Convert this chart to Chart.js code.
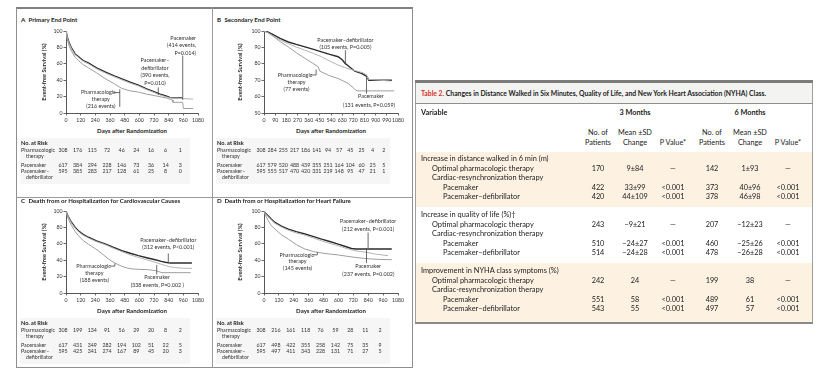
<!DOCTYPE html>
<html><head><meta charset="utf-8">
<script src="https://cdn.jsdelivr.net/npm/chart.js@4"></script>
<style>
html,body{margin:0;padding:0;background:#fff;}
#root{position:relative;width:828px;height:381px;overflow:hidden;background:#fff;font-family:Lato,'Open Sans',sans-serif;color:#222;}
.abs{position:absolute;white-space:nowrap;line-height:1;}
canvas{position:absolute;}
</style></head><body><div id="root"></div>
<script>
// ---------------- DATA ----------------
const xTicks120 = [0,120,240,360,480,600,720,840,960,1080];
const xTicks90 = [0,90,180,270,360,450,540,630,720,810,900,990,1080];
const yTicks0 = [0,20,40,60,80,100];
const yTicks50 = [50,60,70,80,90,100];
const riskDays120 = [0,120,240,360,480,600,720,840,960];
const riskDays90 = [0,90,180,270,360,450,540,630,720,810,900,990];

// Panel A: Primary end point  [day, % event-free]
const A_pharm = [[0,100],[10,90],[25,82],[46,75],[75,68],[101,64],[140,59],[183,55],[250,49],[320,42],[390,36],[457,30],[525,27],[593,25.5],[660,23],[730,21],[780,19.5],[830,18],[870,16],[875,13],[955,13],[960,5.5],[1040,5.5]];
const A_pace = [[0,100],[10,92],[25,85],[46,78],[75,71],[101,68],[140,63],[183,60],[250,54],[320,49],[390,44.5],[457,40.5],[525,36.5],[593,33],[660,28.5],[730,24.5],[770,22],[812,20],[850,18.5],[894,18],[960,17.5],[1040,17]];
const A_pd = [[0,100],[10,93],[25,86],[46,79],[75,72],[101,69],[140,64],[183,61],[250,55],[320,50],[390,45.5],[457,41.5],[525,37.5],[593,34],[660,29.5],[730,25.5],[770,23],[812,21],[850,19],[894,18.5],[955,18.5]];
// Panel B: Secondary end point
const B_pharm = [[0,100],[30,99],[62,97.5],[130,93.5],[196,90.3],[260,86.8],[330,83.3],[390,80.5],[437,78.2],[450,75.5],[520,73],[598,71],[640,69.5],[678,68],[710,66],[732,64.5],[750,63.5],[1050,63.5]];
const B_pace = [[0,100],[30,99],[62,97.5],[130,94.5],[196,92.3],[260,90.2],[330,88.3],[400,86.3],[464,84.3],[530,81.7],[598,79.2],[650,77.8],[700,76.5],[750,75.5],[800,74.5],[830,73],[840,70.5],[1020,69.5]];
const B_pd = [[0,100],[30,99.5],[62,98.3],[130,95.5],[196,93.3],[260,91.8],[330,90.3],[400,88.8],[464,87.3],[530,85.7],[598,84.3],[630,82.5],[651,80.5],[690,78],[732,75.5],[785,74.2],[825,72.5],[845,70],[1030,70]];
// Panel C: Death or hospitalization for cardiovascular causes
const C_pharm = [[0,100],[10,94],[20,90],[46,82],[75,75],[101,70],[140,64],[183,59.5],[230,55],[265,51.5],[310,46],[347,41.5],[400,36.5],[457,32.5],[500,30.5],[539,29.4],[600,28.8],[675,28.4],[730,27.4],[760,26],[785,24.8],[1020,24.8]];
const C_pace = [[0,100],[10,95.5],[20,92.5],[46,85],[75,79],[101,75],[140,70.5],[183,67],[250,62.5],[320,59],[390,54.5],[457,50.5],[525,46.5],[593,43.5],[660,40.5],[730,37.5],[780,35],[812,33.5],[850,32],[894,31],[960,30.2],[1030,30]];
const C_pd = [[0,100],[10,96],[20,93],[46,86],[75,80],[101,76],[140,71.5],[183,68],[250,63.5],[320,60],[390,55.5],[457,51.5],[525,48.5],[593,45.5],[660,43],[730,40.5],[780,38.5],[812,37.5],[853,36.5],[1030,36.5]];
// Panel D: Death or hospitalization for heart failure
const D_pharm = [[0,100],[10,95],[35,88],[60,82],[88,78],[140,71],[196,65.7],[260,59],[330,53.6],[400,50.5],[464,48.8],[530,47.5],[598,46.4],[660,45],[732,43.5],[800,42.3],[866,41.5],[950,40.8],[1030,40.7]];
const D_pace = [[0,100],[10,97],[35,93],[60,89],[88,85],[140,80.5],[196,76.5],[260,73.3],[330,70.6],[400,67],[464,63.7],[530,60.5],[598,57.7],[660,54.5],[732,51.6],[780,50.5],[825,49.6],[892,47.6],[1000,45.5]];
const D_pd = [[0,100],[10,97.5],[35,94],[60,90],[88,86],[140,81.5],[196,78],[260,74.8],[330,72],[400,68.8],[464,65.7],[530,62.8],[598,59.7],[650,57],[705,54.3],[740,53.7],[1030,53.7]];

// Numbers at risk
const riskA_pharm = [308,176,115,72,46,24,16,6,1];
const riskA_pace = [617,384,294,228,146,73,36,14,3];
const riskA_pd = [595,385,283,217,128,61,25,8,0];
const riskB_pharm = [308,284,255,217,186,141,94,57,45,25,4,2];
const riskB_pace = [617,579,520,488,439,355,251,164,104,60,25,5];
const riskB_pd = [595,555,517,470,420,331,219,148,95,47,21,1];
const riskC_pharm = [308,199,134,91,56,29,20,8,2];
const riskC_pace = [617,431,349,282,194,102,51,22,5];
const riskC_pd = [595,425,341,274,167,89,45,20,3];
const riskD_pharm = [308,216,161,118,76,59,28,11,2];
const riskD_pace = [617,498,422,355,258,142,75,35,9];
const riskD_pd = [595,497,411,343,228,131,71,27,5];

// Table 2
const groupTitles = ['Increase in distance walked in 6 min (m)','Increase in quality of life (%)\u2020','Improvement in NYHA class symptoms (%)'];
const optN3 = [170,243,242], optChg3 = ['9\u00b184','\u22129\u00b121','24'], optP3 = ['\u2014','\u2014','\u2014'];
const optN6 = [142,207,199], optChg6 = ['1\u00b193','\u221212\u00b123','38'], optP6 = ['\u2014','\u2014','\u2014'];
const paceN3 = [422,510,551], paceChg3 = ['33\u00b199','\u221224\u00b127','58'], paceP3 = ['<0.001','<0.001','<0.001'];
const paceN6 = [373,460,489], paceChg6 = ['40\u00b196','\u221225\u00b126','61'], paceP6 = ['<0.001','<0.001','<0.001'];
const pdN3 = [420,514,543], pdChg3 = ['44\u00b1109','\u221224\u00b128','55'], pdP3 = ['<0.001','<0.001','<0.001'];
const pdN6 = [378,478,497], pdChg6 = ['46\u00b198','\u221226\u00b128','57'], pdP6 = ['<0.001','<0.001','<0.001'];

// ---------------- HELPERS ----------------
const root = document.getElementById('root');
const FONT = 'Lato';
function box(x,y,w,h,style){const d=document.createElement('div');d.style.cssText=`position:absolute;left:${x}px;top:${y}px;width:${w}px;height:${h}px;`+(style||'');root.appendChild(d);return d;}
function T(x,y,s,o){o=o||{};const d=document.createElement('div');d.className='abs';
  if(o.html)d.innerHTML=s;else d.textContent=s;
  d.style.left=x+'px';d.style.top=y+'px';d.style.fontSize=(o.size||7)+'px';
  if(o.bold)d.style.fontWeight='700';d.style.color=o.color||'#222';
  const tx=o.align==='center'?'-50%':(o.align==='right'?'-100%':'0');
  d.style.transform=`translate(${tx},-50%)`;
  if(o.rot){d.style.transformOrigin='0 0';d.style.transform=`rotate(-90deg) translate(-50%,-50%)`;}
  root.appendChild(d);return d;}

// ---------------- FRAME ----------------
box(16,7,397,361,'border:1px solid #8f8f8f;border-top:2px solid #808080;box-sizing:border-box;');
box(211.5,7,1.5,361,'background:#9a9a9a;');
box(16,196.5,397,1.3,'background:#9a9a9a;');

// ---------------- PANELS ----------------
const COLORS = ['#9e9e9e','#b4b4b4','#2c2c2c'];
const WIDTHS = [1.0,1.0,1.4];
const notesPlugin = {
  id:'notes',
  afterDatasetsDraw(chart,args,opts){
    const ctx=chart.ctx, xs=chart.scales.x, ys=chart.scales.y;
    ctx.save();
    ctx.fillStyle='#333';ctx.strokeStyle='#444';ctx.lineWidth=0.8;
    ctx.font=`5.4px ${FONT}`;ctx.textBaseline='middle';
    (opts.texts||[]).forEach(t=>{ctx.textAlign=t[3]||'center';ctx.fillText(t[0],xs.getPixelForValue(t[1]),ys.getPixelForValue(t[2]));});
    (opts.lines||[]).forEach(l=>{ctx.beginPath();l.forEach((p,i)=>{const px=xs.getPixelForValue(p[0]),py=ys.getPixelForValue(p[1]);if(i)ctx.lineTo(px,py);else ctx.moveTo(px,py);});ctx.stroke();});
    ctx.restore();
  }
};

const panels = [
 {letter:'A',title:'Primary End Point',px:16,cl:36,ct:23,cw:176,ch:102,ymin:0,ymax:100,yt:yTicks0,xt:xTicks120,
  series:[A_pharm,A_pace,A_pd],risk:[riskA_pharm,riskA_pace,riskA_pd],rdays:riskDays120,titleY:20,
  notes:{texts:[['Pacemaker',1064,91.7,'right'],['(414 events,',1064,82.2,'right'],['P=0.014)',1064,72.9,'right'],
    ['Pacemaker\u2013',728,63.8],['defibrillator',728,54.7],['(390 events,',728,45.6],['P=0.010)',728,36.4],
    ['Pharmacologic',265,24.9],['therapy',285,16.4],['(216 events)',285,7.9]],
   lines:[[[955,70],[955,16]],[[755,31.2],[755,21.9]],[[392,24.9],[440,24.9]],[[440,29],[440,7.5]]]}},
 {letter:'B',title:'Secondary End Point',px:212,cl:234,ct:23,cw:178,ch:102,ymin:50,ymax:100,yt:yTicks50,xt:xTicks90,
  series:[B_pharm,B_pace,B_pd],risk:[riskB_pharm,riskB_pace,riskB_pd],rdays:riskDays90,titleY:20,
  notes:{texts:[['Pacemaker\u2013defibrillator',656,94.5],['(105 events, P=0.005)',656,89.8],
    ['Pharmacologic',250,73.2],['therapy',262,68.9],['(77 events)',262,64.5],
    ['Pacemaker',862,60],['(131 events, P=0.059)',846,55]],
   lines:[[[656,88.3],[656,79.5]],[[378,73.2],[420,73.2],[420,76.5]],[[826,71.5],[826,61.8]]]}},
 {letter:'C',title:'Death from or Hospitalization for Cardiovascular Causes',px:16,cl:36,ct:203,cw:176,ch:102,ymin:0,ymax:100,yt:yTicks0,xt:xTicks120,
  series:[C_pharm,C_pace,C_pd],risk:[riskC_pharm,riskC_pace,riskC_pd],rdays:riskDays120,titleY:201,
  notes:{texts:[['Pacemaker\u2013defibrillator',837,64],['(312 events, P<0.001)',837,55.3],
    ['Pharmacologic',226,32.8],['therapy',232,23.9],['(188 events)',232,15.4],
    ['Pacemaker',745,18.6],['(338 events, P=0.002 )',747,9.7]],
   lines:[[[837,48.2],[837,37.3]],[[358,32.8],[400,32.8],[400,36]],[[742,34],[742,22.7]]]}},
 {letter:'D',title:'Death from or Hospitalization for Heart Failure',px:212,cl:234,ct:203,cw:178,ch:102,ymin:0,ymax:100,yt:yTicks0,xt:xTicks120,
  series:[D_pharm,D_pace,D_pd],risk:[riskD_pharm,riskD_pace,riskD_pd],rdays:riskDays120,titleY:201,
  notes:{texts:[['Pacemaker\u2013defibrillator',839,87.2],['(212 events, P<0.001)',839,78.2],
    ['Pharmacologic',265,46.5],['therapy',270,38.3],['(145 events)',270,30],
    ['Pacemaker',839,32],['(237 events, P=0.002)',841,23.3]],
   lines:[[[839,73.7],[839,55]],[[395,46.5],[430,46.5],[430,49.7]],[[826,54],[826,36.5]]]}}
];

panels.forEach(p=>{
  const cv=document.createElement('canvas');
  cv.width=p.cw;cv.height=p.ch;cv.style.left=p.cl+'px';cv.style.top=p.ct+'px';
  cv.style.width=p.cw+'px';cv.style.height=p.ch+'px';
  const axisCommon={
    grid:{drawOnChartArea:false,drawTicks:true,tickLength:2.5,color:'#444',lineWidth:0.8},
    border:{display:true,color:'#444',width:0.9}
  };
  // risk table background first (under text)
  const B0=p.ct+p.ch-12;
  box(p.px+4,B0+25,(p.cl+p.cw-14)-p.px-12,46,'background:#f6f6f6;');
  root.appendChild(cv);
  const chart=new Chart(cv.getContext('2d'),{
    type:'line',
    data:{datasets:p.series.map((s,i)=>({data:s.map(q=>({x:q[0],y:q[1]})),borderColor:COLORS[i],borderWidth:WIDTHS[i],pointRadius:0,fill:false,tension:0}))},
    options:{
      responsive:false,animation:false,devicePixelRatio:1,
      layout:{padding:{top:8,right:14,left:0,bottom:0}},
      plugins:{legend:{display:false},tooltip:{enabled:false},notes:p.notes},
      scales:{
        x:Object.assign({type:'linear',min:0,max:1080,
          afterBuildTicks:a=>{a.ticks=p.xt.map(v=>({value:v}));},
          afterFit:s=>{s.height=12;},
          ticks:{autoSkip:false,maxRotation:0,padding:1.5,color:'#333',font:{size:5.2,family:FONT},callback:v=>String(v)}},axisCommon),
        y:Object.assign({type:'linear',min:p.ymin,max:p.ymax,
          afterBuildTicks:a=>{a.ticks=p.yt.map(v=>({value:v}));},
          afterFit:s=>{s.width=30;},
          ticks:{autoSkip:false,padding:1,color:'#333',font:{size:5.2,family:FONT},callback:v=>String(v)}},axisCommon)
      }
    },
    plugins:[notesPlugin]
  });
  const ca=chart.chartArea;
  const L=p.cl+ca.left,R=p.cl+ca.right,Tp=p.ct+ca.top,B=p.ct+ca.bottom;
  // titles
  T(p.px+5,p.titleY,p.letter,{size:6.2,bold:true});
  T(p.px+12.5,p.titleY,p.title,{size:6.1,bold:true});
  // axis titles
  T(p.px+27.5,(Tp+B)/2,'Event-free Survival (%)',{size:5.7,bold:true,rot:true});
  T((L+R)/2,B+18,'Days after Randomization',{size:6.1,bold:true,align:'center'});
  // numbers at risk
  const lx=p.px+5;
  T(lx,B+30,'No. at Risk',{size:5.6,bold:true});
  T(lx,B+38,'Pharmacologic',{size:5.3,color:'#333'});
  T(lx+5,B+44,'therapy',{size:5.3,color:'#333'});
  T(lx,B+52.5,'Pacemaker',{size:5.3,color:'#333'});
  T(lx,B+58.5,'Pacemaker\u2013',{size:5.3,color:'#333'});
  T(lx+5,B+64.5,'defibrillator',{size:5.3,color:'#333'});
  const rowsY=[B+38,B+52.5,B+58.5];
  p.risk.forEach((arr,ri)=>{
    arr.forEach((n,k)=>{
      const x=p.cl+chart.scales.x.getPixelForValue(p.rdays[k])-3;
      T(x,rowsY[ri],String(n),{size:5.3,align:'center',color:'#333'});
    });
  });
});

// ---------------- TABLE ----------------
box(415,80,398,244,'border-left:1px solid #a0a0a0;border-right:1px solid #a0a0a0;box-sizing:border-box;');
box(416,82.5,396,20.5,'background:#f3f3f1;');
box(415,80,398,2.5,'background:#7b7b7b;');
box(415,103,398,1,'background:#8e8e8e;');
box(416,152,396,55,'background:#fdf2e2;');
box(416,262.5,396,59.5,'background:#fdf2e2;');
box(415,322,398,2,'background:#8a8a8a;');
T(421,93,'<span style="color:#d3302b">Table 2.</span> Changes in Distance Walked in Six Minutes, Quality of Life, and New York Heart Association (NYHA) Class.',{html:true,size:6.8,bold:true});
T(421,113,'Variable',{size:7.3,bold:true});
T(635,113,'3 Months',{size:7.3,bold:true,align:'center'});
T(750,113,'6 Months',{size:7.3,bold:true,align:'center'});
const colX=[598,635,673,712,750,788];
[[0,'No. of','Patients'],[1,'Mean \u00b1SD','Change'],[2,null,'P Value*'],[3,'No. of','Patients'],[4,'Mean \u00b1SD','Change'],[5,null,'P Value*']].forEach(h=>{
  if(h[1])T(colX[h[0]],133,h[1],{size:7.3,align:'center'});
  T(colX[h[0]],143,h[2],{size:7.3,align:'center'});
});
groupTitles.forEach((g,gi)=>{
  const y0=159+gi*56, dy=9.6;
  T(421,y0,g,{size:7.4});
  T(432,y0+dy,'Optimal pharmacologic therapy',{size:7.4});
  T(432,y0+2*dy,'Cardiac-resynchronization therapy',{size:7.4});
  T(443,y0+3*dy,'Pacemaker',{size:7.4});
  T(443,y0+4*dy,'Pacemaker\u2013defibrillator',{size:7.4});
  const rows=[[y0+dy,[optN3,optChg3,optP3,optN6,optChg6,optP6]],[y0+3*dy,[paceN3,paceChg3,paceP3,paceN6,paceChg6,paceP6]],[y0+4*dy,[pdN3,pdChg3,pdP3,pdN6,pdChg6,pdP6]]];
  rows.forEach(r=>{r[1].forEach((arr,ci)=>{T(colX[ci],r[0],String(arr[gi]),{size:7.3,align:'center'});});});
});
</script></body></html>
